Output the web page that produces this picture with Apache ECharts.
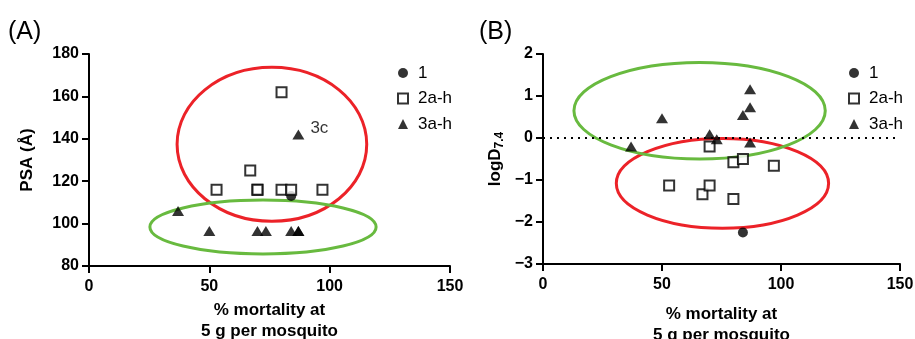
<!DOCTYPE html>
<html>
<head>
<meta charset="utf-8">
<script src="https://cdn.jsdelivr.net/npm/echarts@6/dist/echarts.min.js"></script>
<style>
    html, body { margin: 0; padding: 0; background: #fff; }
    #chart { width: 915px; height: 339px; }
</style>
</head>
<body>
<div id="chart"></div>
<script>
// ---- data ----
const xTicks = [0, 50, 100, 150];
const psaTicks = [80, 100, 120, 140, 160, 180];
const logdTicks = [-3, -2, -1, 0, 1, 2];

// (A) PSA vs % mortality
const psaCpd1 = [[84, 113]];
const psaCpd2 = [[53, 116], [67, 125], [70, 116], [70, 116], [80, 116], [80, 162], [84, 116], [97, 116]];
const psaCpd3 = [[37, 106], [50, 96.5], [70, 96.5], [73.5, 96.5], [84, 96.5], [87, 96.5], [87, 96.5], [87, 142]];
// ellipses: [centre x, centre y, radius x, radius y]
const psaRedRing = [[76, 137.4, 39.4, 36.3]];
const psaGreenRing = [[72.3, 98.4, 47, 12.7]];

// (B) logD7.4 vs % mortality
const logdCpd1 = [[84, -2.25]];
const logdCpd2 = [[53, -1.13], [67, -1.34], [70, -0.2], [70, -1.13], [80, -0.58], [80, -1.45], [84, -0.5], [97, -0.66]];
const logdCpd3 = [[37, -0.2], [50, 0.47], [70, 0.09], [73, -0.03], [84, 0.55], [87, 1.16], [87, 0.73], [87, -0.11]];
const logdRedRing = [[75.4, -1.08, 44.6, 1.07]];
const logdGreenRing = [[65.8, 0.65, 52.8, 1.15]];
const zeroLine = [[0, 0], [150, 0]];

const legendNames = ["1", "2a-h", "3a-h"];

// ---- styles ----
const FONT = "'Liberation Sans', Arial, Helvetica, sans-serif";
const RED = "#ec2228";
const GREEN = "#68ba3f";

const chart = echarts.init(document.getElementById("chart"), null, { renderer: "canvas" });

const minusFmt = v => String(v).replace("-", "\u2212");

function makeXAxis(idx, gap) {
    return {
        type: "value",
        gridIndex: idx,
        min: xTicks[0],
        max: xTicks[xTicks.length - 1],
        interval: xTicks[1] - xTicks[0],
        name: "% mortality at\n5 g per mosquito",
        nameLocation: "middle",
        nameGap: gap,
        nameTextStyle: { fontFamily: FONT, fontSize: 17, fontWeight: "bold", color: "#000", lineHeight: 21 },
        axisLine: { show: true, onZero: false, lineStyle: { color: "#000", width: 2 } },
        axisTick: { show: true, length: 7, lineStyle: { color: "#000", width: 2 } },
        axisLabel: { fontFamily: FONT, fontSize: 16, fontWeight: "bold", color: "#000", margin: 13 },
        splitLine: { show: false },
    };
}

function makeYAxis(idx, ticks, name, gap) {
    return {
        type: "value",
        gridIndex: idx,
        min: ticks[0],
        max: ticks[ticks.length - 1],
        interval: ticks[1] - ticks[0],
        name: name,
        nameLocation: "middle",
        nameRotate: 90,
        nameGap: gap,
        nameTextStyle: {
            fontFamily: FONT, fontSize: 17, fontWeight: "bold", color: "#000",
            rich: {
                a: { fontFamily: FONT, fontSize: 17, fontWeight: "bold", color: "#000" },
                b: { fontFamily: FONT, fontSize: 12, fontWeight: "bold", color: "#000", padding: [9, 0, 0, 0] },
            },
        },
        axisLine: { show: true, onZero: false, lineStyle: { color: "#000", width: 2 } },
        axisTick: { show: true, length: 7, lineStyle: { color: "#000", width: 2 } },
        axisLabel: { fontFamily: FONT, fontSize: 16, fontWeight: "bold", color: "#000", margin: 10, formatter: minusFmt },
        splitLine: { show: false },
    };
}

function renderRing(params, api) {
    const c = api.coord([api.value(0), api.value(1)]);
    const s = api.size([api.value(2), api.value(3)]);
    return {
        type: "ellipse",
        shape: { cx: c[0], cy: c[1], rx: s[0], ry: s[1] },
        style: { fill: "none", stroke: api.visual("color"), lineWidth: 3 },
    };
}

function ringSeries(idx, data, color) {
    return {
        type: "custom",
        name: "ring",
        xAxisIndex: idx,
        yAxisIndex: idx,
        renderItem: renderRing,
        itemStyle: { color: color },
        clip: false,
        silent: true,
        z: 1,
        data: data,
    };
}

function pointSeries(idx, d1, d2, d3) {
    return [
        {
            name: "1", type: "scatter", xAxisIndex: idx, yAxisIndex: idx,
            symbol: "circle", symbolSize: 10, z: 3,
            itemStyle: { color: "#000" },
            data: d1,
        },
        {
            name: "2a-h", type: "scatter", xAxisIndex: idx, yAxisIndex: idx,
            symbol: "rect", symbolSize: 10, z: 4,
            itemStyle: { color: "#fff", borderColor: "#000", borderWidth: 2 },
            data: d2,
        },
        {
            name: "3a-h", type: "scatter", xAxisIndex: idx, yAxisIndex: idx,
            symbol: "triangle", symbolSize: [12, 10], z: 5,
            itemStyle: { color: "#000" },
            data: d3,
        },
    ];
}

function makeLegend(left) {
    return {
        data: legendNames,
        orient: "vertical",
        left: left,
        top: 64.5,
        padding: 0,
        itemWidth: 10,
        itemHeight: 10,
        itemGap: 8.5,
        selectedMode: false,
        textStyle: { fontFamily: FONT, fontSize: 17, color: "#000", padding: [0, 0, 0, 5] },
    };
}

// label "3c" next to the high triangle
const psaCpd3Data = psaCpd3.map(p => (p[1] > 130
    ? { value: p, label: { show: true, formatter: "3c", position: "right", offset: [1, -6], fontFamily: FONT, fontSize: 17, color: "#000" } }
    : p));

const series = [
    ringSeries(0, psaRedRing, RED),
    ringSeries(0, psaGreenRing, GREEN),
    ...pointSeries(0, psaCpd1, psaCpd2, psaCpd3Data),
    {
        type: "line", name: "zero", xAxisIndex: 1, yAxisIndex: 1,
        data: zeroLine, symbol: "none", silent: true, z: 2,
        lineStyle: { color: "#000", width: 2, type: [2, 5] },
    },
    ringSeries(1, logdRedRing, RED),
    ringSeries(1, logdGreenRing, GREEN),
    ...pointSeries(1, logdCpd1, logdCpd2, logdCpd3),
];

const option = {
    animation: false,
    backgroundColor: "#fff",
    textStyle: { fontFamily: FONT },
    title: [
        { text: "(A)", left: 3, top: 15, textStyle: { fontFamily: FONT, fontSize: 25, fontWeight: "normal", color: "#000" } },
        { text: "(B)", left: 474, top: 15, textStyle: { fontFamily: FONT, fontSize: 25, fontWeight: "normal", color: "#000" } },
    ],
    legend: [makeLegend(397), makeLegend(848)],
    grid: [
        { left: 89, top: 54, width: 361, height: 212, outerBoundsMode: "none" },
        { left: 543, top: 54, width: 357, height: 210, outerBoundsMode: "none" },
    ],
    xAxis: [makeXAxis(0, 33), makeXAxis(1, 40)],
    yAxis: [
        makeYAxis(0, psaTicks, "PSA (Å)", 53),
        makeYAxis(1, logdTicks, "{a|logD}{b|7.4}", 37),
    ],
    series: series,
};

chart.setOption(option);
</script>
</body>
</html>
